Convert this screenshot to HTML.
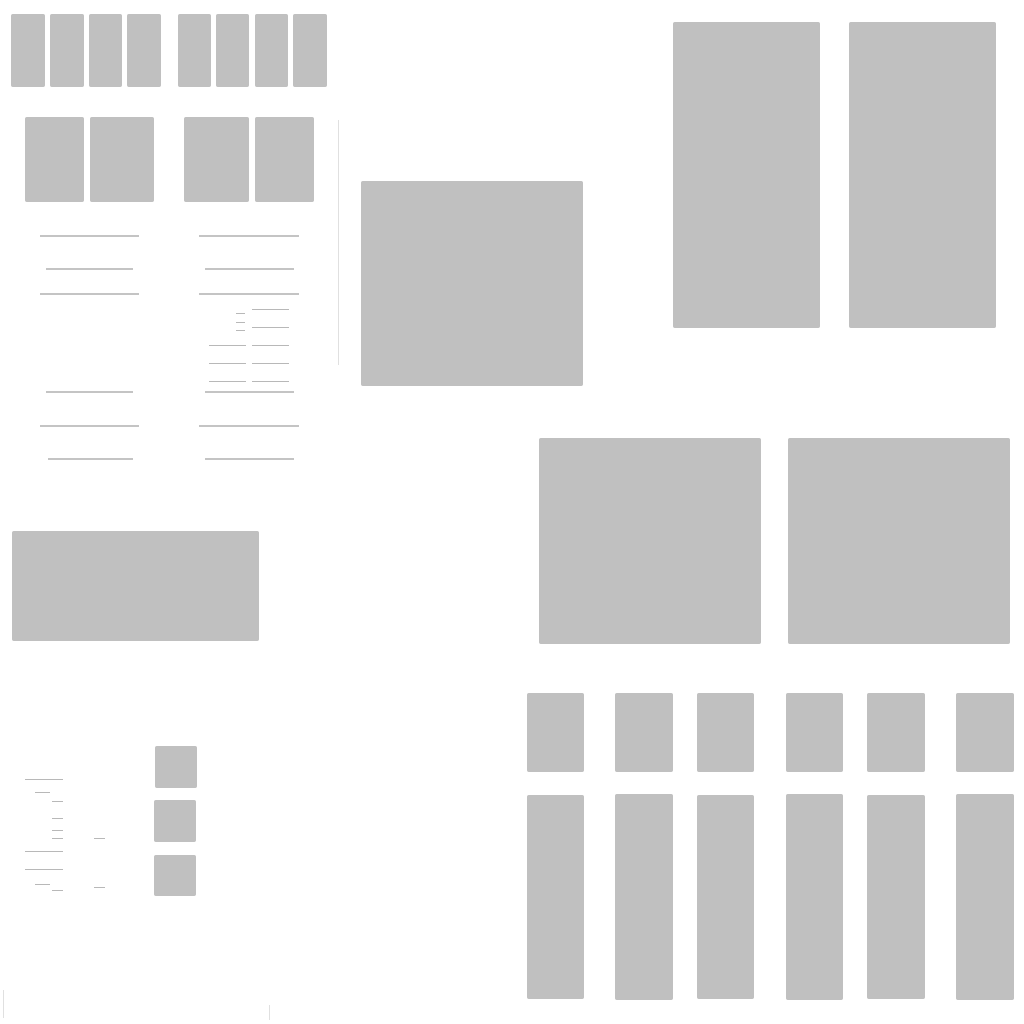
<!DOCTYPE html>
<html><head><meta charset="utf-8"><style>
html,body{margin:0;padding:0;background:#fff;}
body{width:1024px;height:1024px;position:relative;overflow:hidden;font-family:"Liberation Sans",sans-serif;}
.r{position:absolute;background:#c0c0c0;border-radius:2px;}
.l{position:absolute;height:2px;background:#c4c4c4;}
.t{position:absolute;height:1px;background:#b8b8b8;}
</style></head><body>
<!-- top-left small -->
<div class="r" style="left:11px;top:14px;width:34px;height:73px"></div>
<div class="r" style="left:50px;top:14px;width:34px;height:73px"></div>
<div class="r" style="left:89px;top:14px;width:33px;height:73px"></div>
<div class="r" style="left:127px;top:14px;width:34px;height:73px"></div>
<div class="r" style="left:178px;top:14px;width:33px;height:73px"></div>
<div class="r" style="left:216px;top:14px;width:33px;height:73px"></div>
<div class="r" style="left:255px;top:14px;width:33px;height:73px"></div>
<div class="r" style="left:293px;top:14px;width:34px;height:73px"></div>
<div class="r" style="left:25px;top:117px;width:59px;height:85px"></div>
<div class="r" style="left:90px;top:117px;width:64px;height:85px"></div>
<div class="r" style="left:184px;top:117px;width:65px;height:85px"></div>
<div class="r" style="left:255px;top:117px;width:59px;height:85px"></div>
<!-- lines -->
<div class="l" style="left:40px;top:235px;width:99px"></div>
<div class="l" style="left:46px;top:268px;width:87px"></div>
<div class="l" style="left:40px;top:293px;width:99px"></div>
<div class="l" style="left:46px;top:391px;width:87px"></div>
<div class="l" style="left:40px;top:425px;width:99px"></div>
<div class="l" style="left:48px;top:458px;width:85px"></div>
<div class="l" style="left:199px;top:235px;width:100px"></div>
<div class="l" style="left:205px;top:268px;width:89px"></div>
<div class="l" style="left:199px;top:293px;width:100px"></div>
<div class="l" style="left:205px;top:391px;width:89px"></div>
<div class="l" style="left:199px;top:425px;width:100px"></div>
<div class="l" style="left:205px;top:458px;width:89px"></div>
<div class="t" style="left:236px;top:313px;width:9px"></div>
<div class="t" style="left:236px;top:322px;width:9px"></div>
<div class="t" style="left:236px;top:330px;width:9px"></div>
<div class="t" style="left:252px;top:309px;width:37px"></div>
<div class="t" style="left:252px;top:327px;width:37px"></div>
<div class="t" style="left:209px;top:345px;width:37px"></div>
<div class="t" style="left:252px;top:345px;width:37px"></div>
<div class="t" style="left:209px;top:363px;width:37px"></div>
<div class="t" style="left:252px;top:363px;width:37px"></div>
<div class="t" style="left:209px;top:381px;width:37px"></div>
<div class="t" style="left:252px;top:381px;width:37px"></div>
<div style="position:absolute;left:338px;top:120px;width:1px;height:245px;background:#e0e0e0"></div>
<!-- big -->
<div class="r" style="left:361px;top:181px;width:222px;height:205px"></div>
<div class="r" style="left:673px;top:22px;width:147px;height:306px"></div>
<div class="r" style="left:849px;top:22px;width:147px;height:306px"></div>
<div class="r" style="left:539px;top:438px;width:222px;height:206px"></div>
<div class="r" style="left:788px;top:438px;width:222px;height:206px"></div>
<div class="r" style="left:12px;top:531px;width:247px;height:110px"></div>
<!-- bottom right -->
<div class="r" style="left:527px;top:693px;width:57px;height:79px"></div>
<div class="r" style="left:615px;top:693px;width:58px;height:79px"></div>
<div class="r" style="left:697px;top:693px;width:57px;height:79px"></div>
<div class="r" style="left:786px;top:693px;width:57px;height:79px"></div>
<div class="r" style="left:867px;top:693px;width:58px;height:79px"></div>
<div class="r" style="left:956px;top:693px;width:58px;height:79px"></div>
<div class="r" style="left:527px;top:795px;width:57px;height:204px"></div>
<div class="r" style="left:615px;top:794px;width:58px;height:206px"></div>
<div class="r" style="left:697px;top:795px;width:57px;height:204px"></div>
<div class="r" style="left:786px;top:794px;width:57px;height:206px"></div>
<div class="r" style="left:867px;top:795px;width:58px;height:204px"></div>
<div class="r" style="left:956px;top:794px;width:58px;height:206px"></div>
<!-- small squares -->
<div class="r" style="left:155px;top:746px;width:42px;height:42px"></div>
<div class="r" style="left:154px;top:800px;width:42px;height:42px"></div>
<div class="r" style="left:154px;top:855px;width:42px;height:41px"></div>
<div class="t" style="left:25px;top:779px;width:38px"></div>
<div class="t" style="left:35px;top:792px;width:15px"></div>
<div class="t" style="left:52px;top:801px;width:11px"></div>
<div class="t" style="left:52px;top:818px;width:11px"></div>
<div class="t" style="left:52px;top:830px;width:11px"></div>
<div class="t" style="left:52px;top:838px;width:11px"></div>
<div class="t" style="left:25px;top:851px;width:38px"></div>
<div class="t" style="left:25px;top:869px;width:38px"></div>
<div class="t" style="left:35px;top:884px;width:15px"></div>
<div class="t" style="left:52px;top:890px;width:11px"></div>
<div class="t" style="left:94px;top:838px;width:11px"></div>
<div class="t" style="left:94px;top:887px;width:11px"></div>
<div style="position:absolute;left:3px;top:990px;width:1px;height:28px;background:#e0e0e0"></div>
<div style="position:absolute;left:269px;top:1005px;width:1px;height:15px;background:#e0e0e0"></div>
</body></html>
